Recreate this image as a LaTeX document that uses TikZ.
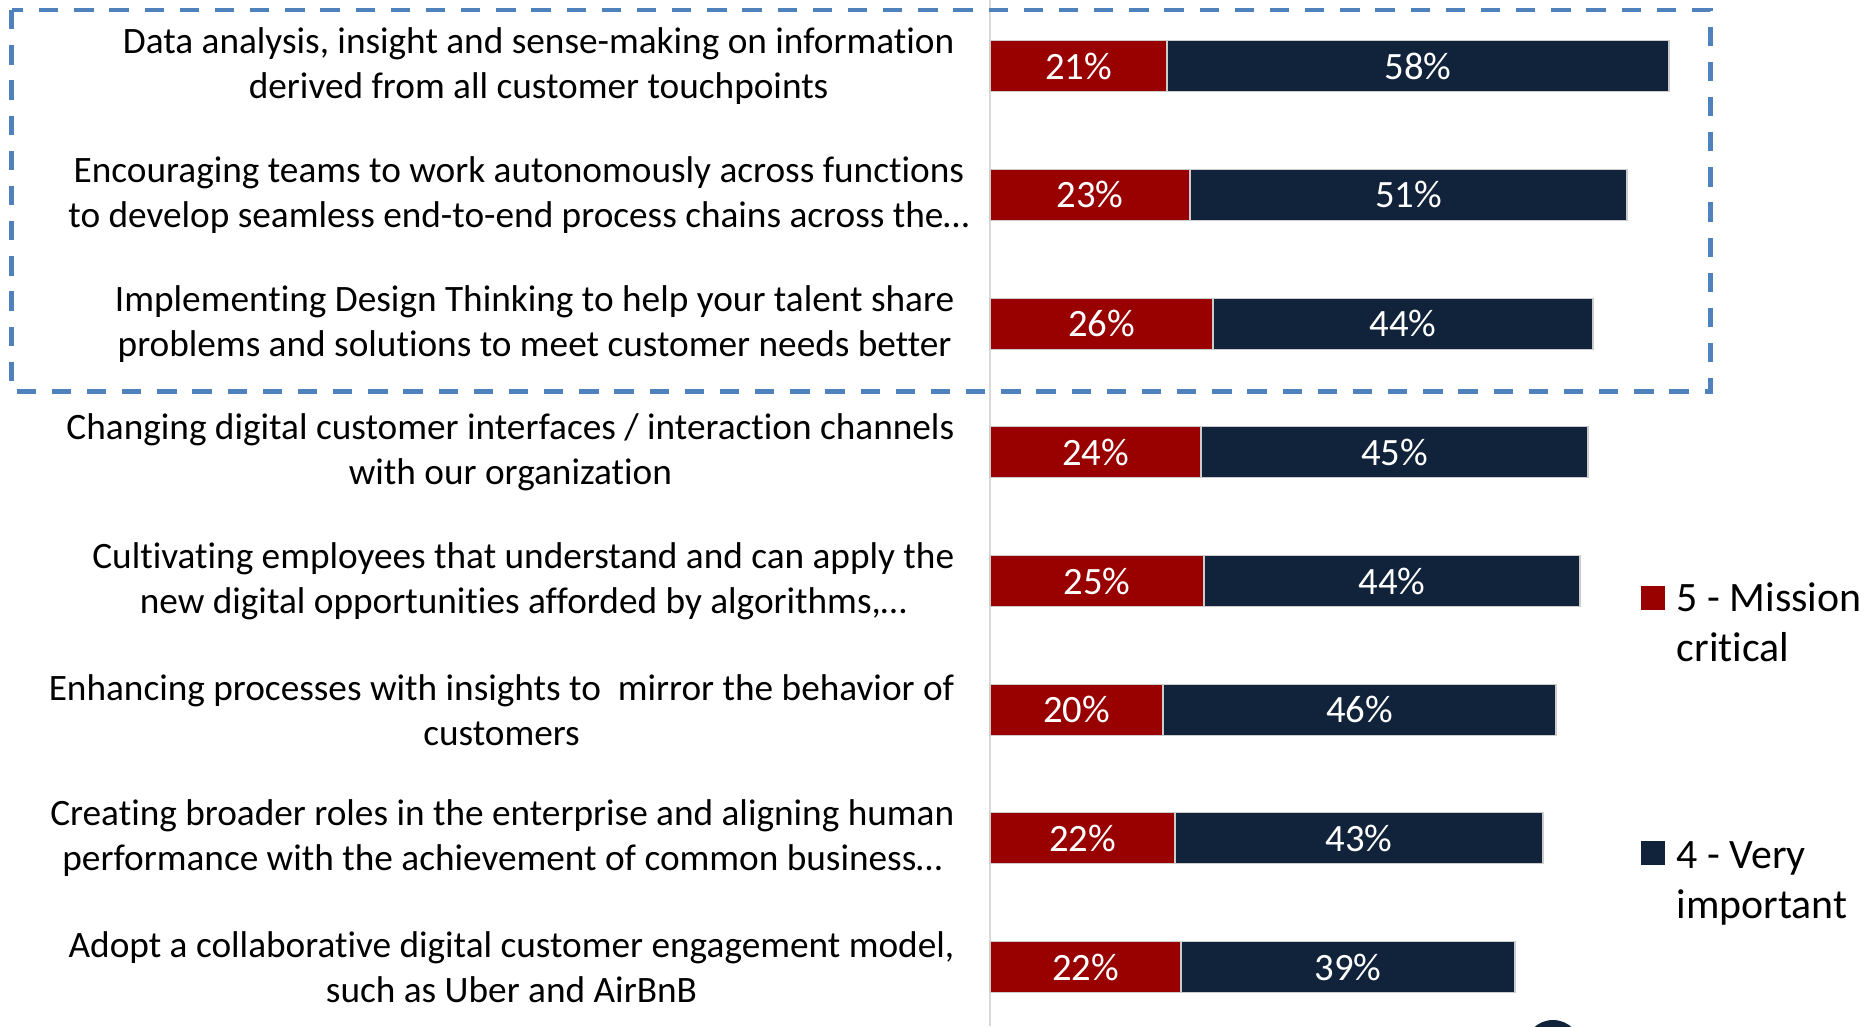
\documentclass[tikz,border=0pt]{standalone}
\usepackage{fontspec}
\setmainfont{Carlito}[Ligatures=NoCommon]
\usetikzlibrary{calc,positioning}
\definecolor{critred}{HTML}{990000}
\definecolor{vimpblue}{HTML}{11233A}
\definecolor{boxblue}{HTML}{4F81BD}
\definecolor{axisgray}{HTML}{D9D9D9}

\begin{document}
\begin{tikzpicture}[x=0.01cm,y=-0.01cm,
    lab/.style={anchor=east,align=center,inner sep=0pt,font=\fontsize{10.6}{12.8}\selectfont},
    pct/.style={text=white,inner sep=0pt,font=\fontsize{11}{13}\selectfont},
    seg5/.style={fill=critred,draw=gray!40,line width=.3pt},
    seg4/.style={fill=vimpblue,draw=gray!40,line width=.3pt},
    key/.style={minimum size=0.24cm,inner sep=0pt},
    keytext/.style={anchor=west,align=left,inner sep=0pt,font=\fontsize{11.9}{14.2}\selectfont},
    hlbox/.style={draw=boxblue,line width=1.3pt,dash pattern=on 5.5pt off 4.5pt}]
    \useasboundingbox (0,0) rectangle (1868,1026);

    \coordinate (axtop) at (990,0);
    \coordinate (axbot) at (990,1026);
    \draw[axisgray,line width=.5pt] (axtop)--(axbot);

    \foreach \i/\r/\d/\pr/\pd in {0/1167/1669/21/58,1/1190/1627/23/51,2/1213/1593/26/44,
        3/1201/1588/24/45,4/1204/1580/25/44,5/1163/1556/20/46,6/1175/1543/22/43,7/1181/1515/22/39}{
      \pgfmathsetmacro\yc{66.2+128.7*\i}
      \draw[seg5] (990,\yc-25.5) rectangle (\r,\yc+25.5);
      \draw[seg4] (\r,\yc-25.5) rectangle (\d,\yc+25.5);
      \node[pct] (p5-\i) at ({(990+\r)/2},\yc) {\pr\%};
      \node[pct] (p4-\i) at ({(\r+\d)/2},\yc) {\pd\%};
    }

    \node[lab] (lab1) at (955,66.2) {Data analysis, insight and sense-making on information\\derived from all customer touchpoints};
    \node[lab] (lab2) at (970,194.9) {Encouraging teams to work autonomously across functions\\to develop seamless end-to-end process chains across the…};
    \node[lab] (lab3) at (955,323.6) {Implementing Design Thinking to help your talent share\\problems and solutions to meet customer needs better};
    \node[lab] (lab4) at (955,452.3) {Changing digital customer interfaces / interaction channels\\with our organization};
    \node[lab] (lab5) at (955,581.0) {Cultivating employees that understand and can apply the\\new digital opportunities afforded by algorithms,…};
    \node[lab] (lab6) at (955,709.7) {Enhancing processes with insights to\ \ mirror the behavior of\\customers};
    \node[lab] (lab7) at (955,838.4) {Creating broader roles in the enterprise and aligning human\\performance with the achievement of common business…};
    \node[lab] (lab8) at (955,967.1) {Adopt a collaborative digital customer engagement model,\\such as Uber and AirBnB};

    \draw[hlbox] (11.5,10) rectangle (1710.5,391.7);

    \node[key,fill=critred] (k5) at (1653,598) {};
    \node[keytext] (t5) at (1676,622) {5 - Mission\\critical};
    \node[key,fill=vimpblue] (k4) at (1653,853) {};
    \node[keytext] (t4) at (1676,883) {4 - Very\\important};

    \begin{scope}
      \clip (0,0) rectangle (1868,1026);
      \fill[vimpblue] (1553,1048) circle (28);
    \end{scope}
  \end{tikzpicture}
\end{document}
